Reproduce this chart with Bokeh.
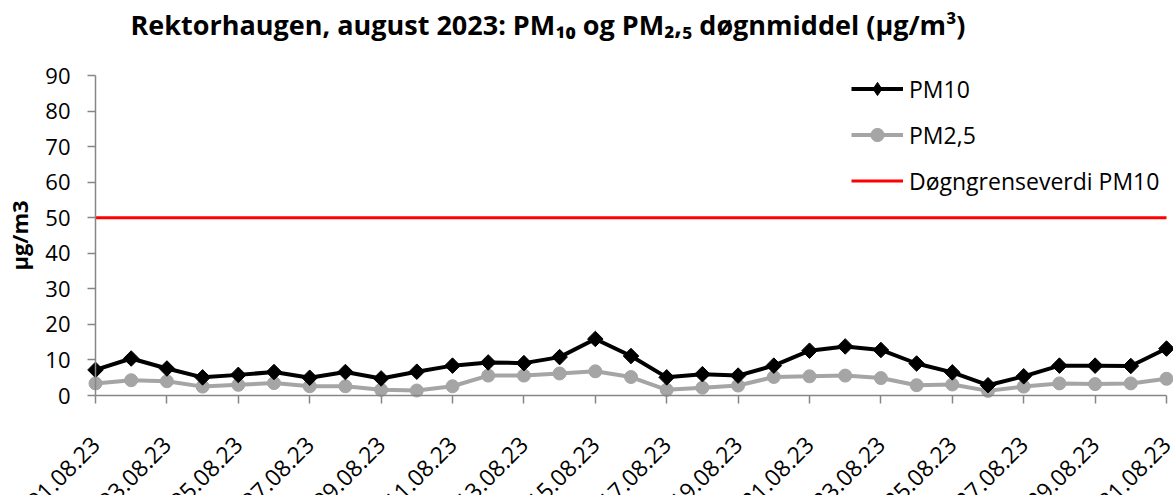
import math
from bokeh.plotting import figure
from bokeh.models import FixedTicker, Legend, LegendItem, Range1d, Title
from bokeh.embed import file_html
from bokeh.resources import INLINE

dates = ["01.08.23", "02.08.23", "03.08.23", "04.08.23", "05.08.23", "06.08.23", "07.08.23",
         "08.08.23", "09.08.23", "10.08.23", "11.08.23", "12.08.23", "13.08.23", "14.08.23",
         "15.08.23", "16.08.23", "17.08.23", "18.08.23", "19.08.23", "20.08.23", "21.08.23",
         "22.08.23", "23.08.23", "24.08.23", "25.08.23", "26.08.23", "27.08.23", "28.08.23",
         "29.08.23", "30.08.23", "31.08.23"]
pm10 = [7.2, 10.4, 7.6, 5.1, 5.8, 6.6, 5.0, 6.6, 4.8, 6.7, 8.4, 9.3, 9.1, 10.8, 15.9, 11.1,
        5.1, 6.0, 5.6, 8.4, 12.6, 13.8, 12.8, 9.0, 6.5, 2.9, 5.4, 8.4, 8.4, 8.3, 13.2]
pm25 = [3.4, 4.3, 4.0, 2.5, 3.0, 3.5, 2.6, 2.6, 1.6, 1.4, 2.6, 5.6, 5.6, 6.2, 6.8, 5.2,
        1.6, 2.2, 2.8, 5.2, 5.4, 5.6, 4.9, 2.9, 3.1, 1.3, 2.5, 3.4, 3.2, 3.4, 4.7]
limit_pm10 = 50
y_ticks = [0, 10, 20, 30, 40, 50, 60, 70, 80, 90]
title_text = "Rektorhaugen, august 2023: PM\u2081\u2080 og PM\u2082,\u2085 d\u00f8gnmiddel (\u00b5g/m\u00b3)"

days = list(range(1, len(dates) + 1))
label_days = days[::2]
overrides = {d: dates[d - 1] for d in label_days}

FONT = "Open Sans"
AXIS_C = "#868686"

# Layout (pixels): the frame fills the canvas below the title; the axes are pinned
# inside it so that the rotated date labels can run to the bottom edge.
CANVAS_W, CANVAS_H, TOP = 1173, 495, 60
FRAME_H = CANVAS_H - TOP
AX_LEFT, AX_RIGHT = 95, 1166      # where the first / last day sit
AX_TOP, AX_BOTTOM = 75, 395       # where 90 / 0 sit
px_day = (AX_RIGHT - AX_LEFT) / (days[-1] - days[0])
x_lo = days[0] - AX_LEFT / px_day
x_hi = days[-1] + (CANVAS_W - AX_RIGHT) / px_day
px_unit = (AX_BOTTOM - AX_TOP) / (y_ticks[-1] - y_ticks[0])
y_lo = y_ticks[0] - (CANVAS_H - AX_BOTTOM) / px_unit
y_hi = y_ticks[-1] + (AX_TOP - TOP) / px_unit

p = figure(frame_width=CANVAS_W, frame_height=FRAME_H, output_backend="svg", toolbar_location=None,
           x_range=Range1d(x_lo, x_hi), y_range=Range1d(y_lo, y_hi),
           min_border_left=0, min_border_top=TOP, min_border_right=0, min_border_bottom=0)
p.outline_line_color = None
p.xgrid.visible = False
p.ygrid.visible = False
p.background_fill_color = "white"
p.title.visible = False

# spacer (closest to the frame) then the real title above it
p.add_layout(Title(text=" ", text_font_size="14px", standoff=0), "above")
p.add_layout(Title(text=title_text, align="left", offset=130, text_font=FONT,
                   text_font_style="bold", text_font_size="27px", text_color="black",
                   standoff=0), "above")

r_lim = p.line([days[0], days[-1]], [limit_pm10, limit_pm10], line_color="#FF0000", line_width=3)
r25l = p.line(days, pm25, line_color="#A5A5A5", line_width=4)
r25m = p.scatter(days, pm25, marker="circle", size=13, color="#A5A5A5")
r10l = p.line(days, pm10, line_color="black", line_width=4)
r10m = p.scatter(days, pm10, marker="square", angle=math.pi / 4, size=11, color="black")
# legend-only glyph (NaN point, not drawn) so the legend shows a diamond
r10leg = p.scatter(x=[float("nan")], y=[float("nan")], marker="diamond", color="black")

for ax in (p.xaxis[0], p.yaxis[0]):
    ax.axis_line_color = AXIS_C
    ax.axis_line_width = 1.5
    ax.major_tick_line_color = AXIS_C
    ax.major_tick_line_width = 1.5
    ax.major_tick_in = 0
    ax.major_tick_out = 8
    ax.minor_tick_line_color = None
    ax.major_label_text_font = FONT
    ax.major_label_text_color = "black"

p.xaxis.ticker = FixedTicker(ticks=label_days)
p.xaxis.fixed_location = y_ticks[0]
p.xaxis.bounds = (days[0], days[-1])
p.xaxis.major_label_overrides = overrides
p.xaxis.major_label_orientation = math.pi / 4
p.xaxis.major_label_text_font_size = "23px"
p.xaxis.major_label_standoff = 37

p.yaxis.ticker = FixedTicker(ticks=y_ticks)
p.yaxis.fixed_location = days[0]
p.yaxis.bounds = (y_ticks[0], y_ticks[-1])
p.yaxis.major_label_text_font_size = "22px"
p.yaxis.major_label_standoff = 17
p.yaxis.axis_label = "\u00b5g/m3"
p.yaxis.axis_label_text_font = FONT
p.yaxis.axis_label_text_font_style = "bold"
p.yaxis.axis_label_text_font_size = "22px"
p.yaxis.axis_label_text_color = "black"
p.yaxis.axis_label_standoff = 8

legend = Legend(items=[
    LegendItem(label="PM10", renderers=[r10l, r10leg]),
    LegendItem(label="PM2,5", renderers=[r25l, r25m]),
    LegendItem(label="D\u00f8gngrenseverdi PM10", renderers=[r_lim]),
], location="top_right")
legend.border_line_color = None
legend.background_fill_alpha = 0
legend.margin = 12
legend.padding = 0
legend.spacing = 13
legend.glyph_width = 52
legend.glyph_height = 33
legend.label_standoff = 6
legend.label_width = 252
legend.label_text_font = FONT
legend.label_text_font_size = "23px"
legend.label_text_color = "black"
p.add_layout(legend)

open("out.html", "w").write(file_html(p, INLINE))
